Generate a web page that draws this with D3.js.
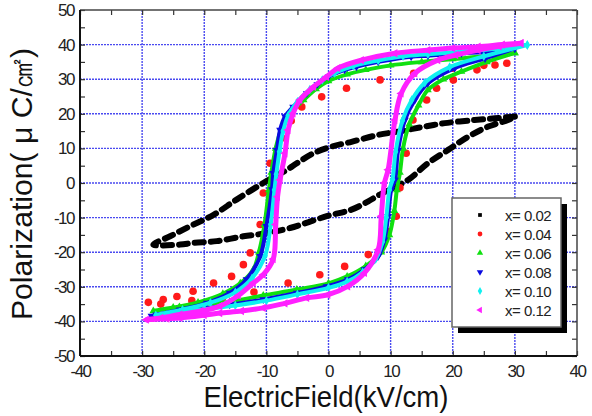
<!DOCTYPE html>
<html>
<head>
<meta charset="utf-8">
<script src="https://cdn.jsdelivr.net/npm/d3@7"></script>
<style>
  body { margin: 0; background: #fff; }
  text { font-family: "Liberation Sans", Arial, sans-serif; }
</style>
</head>
<body>
<div class="chart"></div>
<script>
// tick values
var xTicks = [-40, -30, -20, -10, 0, 10, 20, 30, 40];
var yTicks = [-50, -40, -30, -20, -10, 0, 10, 20, 30, 40, 50];
var seriesNames = ["x= 0.02", "x= 0.04", "x= 0.06", "x= 0.08", "x= 0.10", "x= 0.12"];
var seriesColors = ["#000000", "#ff1a1a", "#10e010", "#0a0ae0", "#10f0f0", "#ff20ff"];

// loops: [E, P], upper branch then lower branch
var loop002 = [[30,19.2],[26.8,18.7],[23.5,18.2],[18.7,17.3],[15.5,16.3],[11.6,15],[8,13.9],[3.7,11.9],[0.45,10.5],[-2.4,8.6],[-5.1,5.7],[-6.7,3.8],[-10.5,0],[-14.8,-4.8],[-18.5,-9.2],[-22.3,-12.5],[-25.5,-15.4],[-28.2,-17.8],
  [-23.9,-17.8],[-21.8,-17.3],[-18,-16.8],[-13.7,-15.4],[-10,-14.5],[-6.2,-13],[-0.3,-9.6],[3.7,-7.7],[6.4,-5.3],[8.2,-3.4],[12.8,0.9],[16,5.7],[19.2,9.5],[22.5,13.4],[25.7,16.3],[28.9,18.2],[30,19.2]];

var loop004 = [[28.7,34.6],[25,34],[20,33.2],[13.7,31.7],[8.3,29.8],[2.9,27.4],[-1.1,24.9],[-4.3,22],[-6,18],[-7.5,13],[-9.4,5.7],[-10.5,-2.9],[-11,-12],[-12.6,-20.2],[-13.7,-23.6],[-15.6,-27],[-18.5,-28.9],[-21.8,-31.3],[-24.4,-32.8],[-26.6,-33.7],[-29,-34.5],
  [-27,-35],[-22,-34],[-17,-33],[-12,-31.5],[-6.5,-28.9],[-1.4,-26.5],[2.6,-24.1],[6.4,-20.7],[9.5,-14],[10.9,-9.6],[11.5,-1.4],[12.5,8.6],[13.6,18.2],[15.8,24],[17.4,27.4],[20.1,29.8],[23.9,32.7],[26.8,34.1]];

var loop006 = [[30,37.6],[25,36.6],[20,35.8],[15,35],[10,34],[6,32.7],[3,31.4],[0,29.5],[-2,27.2],[-4,24],[-6,20.5],[-7.5,16],[-8.5,10],[-9.2,3],[-9.6,-2],[-10.3,-12],[-11.2,-20],[-12.1,-25],[-14.2,-29],[-17,-32],[-21,-34.5],[-25,-36],[-28.2,-37],
  [-24,-35.8],[-20,-35],[-15.9,-34.3],[-10.5,-32.5],[-5.1,-30.8],[0,-29],[3,-27],[6,-24],[8.5,-20],[9.8,-15],[10.6,-8],[11,-2],[11.5,3],[12,10],[13,17],[14.5,22.5],[16,26.9],[18.5,30],[21.4,32.2],[25.5,35],[30,37.6]];

var loop008 = [[30,38.9],[25,37.8],[21.4,37.5],[16,36.8],[13.3,36.5],[8,35],[4.5,33.6],[2.6,32.7],[0,30.7],[-1.8,28.5],[-3.5,25.9],[-5.7,22],[-7,19.2],[-7.8,15.3],[-8.3,9.5],[-8.9,2.8],[-9.1,-1.9],[-10,-12.5],[-11,-21.2],[-13.2,-27.9],[-15.9,-31.8],[-19.6,-34.7],[-23.9,-36.6],[-27.7,-38.1],
  [-28.5,-38.4],[-25,-37.5],[-21.2,-36.6],[-15.9,-35.2],[-10.5,-33.7],[-5.1,-31.8],[-0.3,-29.9],[3.1,-27.9],[5.8,-25],[8,-21.2],[9,-16.4],[9.6,-9.6],[10.1,-1.9],[10.7,0.9],[11.2,9.5],[12.3,18.2],[13.9,24],[16,28.8],[20.3,33.2],[25.2,36],[30,38.9]];

var loop010 = [[32,39.9],[27,38.8],[22,38],[16,37.2],[12,36.6],[8,35.4],[4,33.8],[1,31.8],[-1,29.8],[-3,27],[-5,23.5],[-6.5,19.5],[-7.3,15],[-7.9,9],[-8.4,2.5],[-8.7,-2],[-9.3,-12],[-10.2,-21],[-12.3,-27.5],[-15,-31.6],[-19,-34.6],[-23.5,-36.6],[-27.8,-38.2],
  [-24,-37.4],[-20,-36.5],[-15,-35.4],[-10,-34],[-5,-32.2],[0,-30.3],[3,-28.5],[5.5,-25.8],[7.6,-22],[8.7,-17],[9.3,-10],[9.8,-2],[10.3,1],[10.8,9],[11.9,18],[13.4,24],[15.5,29],[19.5,33.5],[25,36.6],[32,39.9]];

var loop012 = [[31,40.4],[28,40],[24.1,39.4],[20,39],[16,38.4],[10.7,37.5],[5.3,35.5],[1.5,33.2],[-0.3,30.7],[-2.4,27.8],[-4.6,24],[-5.7,20.1],[-6.5,15.3],[-7,8.6],[-7.8,0.9],[-8.2,-4],[-8.5,-12],[-8.9,-22],[-10.5,-26.5],[-12.1,-28.9],[-14.5,-32.5],[-17.5,-35.6],[-20.5,-37],[-23.9,-38],[-27,-39],[-29.3,-39.5],
  [-26,-39.2],[-23.9,-39],[-20,-38.2],[-17.5,-37.6],[-14,-37],[-10.5,-36.1],[-7,-34.8],[-3.5,-33.2],[-0.1,-32.3],[3.1,-29.9],[5.8,-26],[8,-19.3],[8.5,-9.6],[9,0],[9.6,3.8],[10.7,18.2],[11.7,25.9],[13.9,31.7],[17.6,35.5],[20.5,37],[24.1,38.4],[27.5,39.5],[31,40.4]];

var loops = [loop002, loop004, loop006, loop008, loop010, loop012];

var svg = d3.select(".chart").append("svg")
    .attr("width", 592)
    .attr("height", 416);

var x = d3.scaleLinear().domain([-40, 40]).range([80, 577]);
var y = d3.scaleLinear().domain([-50, 50]).range([356, 10]);

// grid
svg.append("g").selectAll("line")
    .data(xTicks.slice(1, -1))
    .enter().append("line")
    .attr("x1", function (d) { return x(d); })
    .attr("x2", function (d) { return x(d); })
    .attr("y1", y(50)).attr("y2", y(-50))
    .attr("stroke", "#4a4af0").attr("stroke-width", 1.4)
    .attr("stroke-dasharray", "2,1");
svg.append("g").selectAll("line")
    .data(yTicks.slice(1, -1))
    .enter().append("line")
    .attr("y1", function (d) { return y(d); })
    .attr("y2", function (d) { return y(d); })
    .attr("x1", x(-40)).attr("x2", x(40))
    .attr("stroke", "#4a4af0").attr("stroke-width", 1.4)
    .attr("stroke-dasharray", "2,1");

// minor ticks (inward) on all four sides
var minorX = d3.range(-40, 41, 5);
var minorY = d3.range(-50, 51, 5);
function tickStyle(g) {
  g.select(".domain").remove();
  g.selectAll("text").remove();
  g.selectAll("line").attr("stroke", "#333").attr("stroke-width", 1.2);
}
svg.append("g").attr("transform", "translate(0," + y(-50) + ")")
    .call(d3.axisBottom(x).tickValues(minorX).tickSize(-5)).call(tickStyle);
svg.append("g").attr("transform", "translate(0," + y(50) + ")")
    .call(d3.axisTop(x).tickValues(minorX).tickSize(-5)).call(tickStyle);
svg.append("g").attr("transform", "translate(" + x(-40) + ",0)")
    .call(d3.axisLeft(y).tickValues(minorY).tickSize(-5)).call(tickStyle);
svg.append("g").attr("transform", "translate(" + x(40) + ",0)")
    .call(d3.axisRight(y).tickValues(minorY).tickSize(-5)).call(tickStyle);

// frame
svg.append("line").attr("x1", x(-40)).attr("x2", x(40)).attr("y1", y(50)).attr("y2", y(50))
    .attr("stroke", "#444").attr("stroke-width", 1.5);
svg.append("line").attr("x1", x(40)).attr("x2", x(40)).attr("y1", y(50)).attr("y2", y(-50))
    .attr("stroke", "#444").attr("stroke-width", 1.5);
svg.append("line").attr("x1", x(-40)).attr("x2", x(-40)).attr("y1", y(50)).attr("y2", y(-50))
    .attr("stroke", "#111").attr("stroke-width", 2);
svg.append("line").attr("x1", x(-40)).attr("x2", x(40)).attr("y1", y(-50)).attr("y2", y(-50))
    .attr("stroke", "#111").attr("stroke-width", 2);

// tick labels
var xAxis = svg.append("g").attr("transform", "translate(0," + y(-50) + ")")
    .call(d3.axisBottom(x).tickValues(xTicks).tickSize(0).tickPadding(9).tickFormat(d3.format("d")));
xAxis.select(".domain").remove();
xAxis.selectAll("text").attr("font-size", 17).attr("fill", "#222")
    .attr("letter-spacing", "-1.5px").style("font-family", "Liberation Sans");
var yAxis = svg.append("g").attr("transform", "translate(" + x(-40) + ",0)")
    .call(d3.axisLeft(y).tickValues(yTicks).tickSize(0).tickPadding(6).tickFormat(d3.format("d")));
yAxis.select(".domain").remove();
yAxis.selectAll("text").attr("font-size", 17).attr("fill", "#222")
    .attr("letter-spacing", "-1.5px").style("font-family", "Liberation Sans");
xAxis.selectAll("text").text(function (d) { return String(d); });
yAxis.selectAll("text").text(function (d) { return String(d); });

// axis titles
svg.append("text")
    .attr("x", 326).attr("y", 407)
    .attr("text-anchor", "middle")
    .attr("font-size", 30)
    .attr("fill", "#111")
    .attr("textLength", 245)
    .attr("lengthAdjust", "spacingAndGlyphs")
    .text("ElectricField(kV/cm)");
svg.append("text")
    .attr("transform", "translate(32,184) rotate(-90)")
    .attr("text-anchor", "middle")
    .attr("font-size", 30)
    .attr("fill", "#111")
    .attr("textLength", 272)
    .attr("lengthAdjust", "spacingAndGlyphs")
    .text("Polarization( \u03bc C/\u33a0)");

// data
var line = d3.line()
    .x(function (d) { return x(d[0]); })
    .y(function (d) { return y(d[1]); })
    .curve(d3.curveCatmullRom);

var symbols = [
  { type: d3.symbolSquare, size: 22, rot: 0 },
  { type: d3.symbolCircle, size: 40, rot: 0 },
  { type: d3.symbolTriangle, size: 26, rot: 0 },
  { type: d3.symbolTriangle, size: 26, rot: 180 },
  { type: d3.symbolDiamond, size: 26, rot: 0 },
  { type: d3.symbolTriangle, size: 30, rot: -90 }
];
var legendSizes = [14, 18, 18, 18, 18, 18];

var plot = svg.append("g");

// black: thick dashed trace
plot.append("path")
    .datum(loop002)
    .attr("d", line)
    .attr("fill", "none")
    .attr("stroke", seriesColors[0])
    .attr("stroke-width", 6)
    .attr("stroke-linecap", "round")
    .attr("stroke-dasharray", "9,7");

// red: sparse dots
plot.selectAll(".red")
    .data(loop004)
    .enter().append("circle")
    .attr("class", "red")
    .attr("cx", function (d) { return x(d[0]); })
    .attr("cy", function (d) { return y(d[1]); })
    .attr("r", 3.8)
    .attr("fill", seriesColors[1]);

// dense series
[2, 3, 4, 5].forEach(function (k) {
  plot.append("path")
      .datum(loops[k])
      .attr("d", line)
      .attr("fill", "none")
      .attr("stroke", seriesColors[k])
      .attr("stroke-width", k === 5 ? 5 : 4)
      .attr("stroke-linejoin", "round");
  plot.selectAll(".s" + k)
      .data(loops[k])
      .enter().append("path")
      .attr("class", "s" + k)
      .attr("transform", function (d) {
        return "translate(" + x(d[0]) + "," + y(d[1]) + ") rotate(" + symbols[k].rot + ")";
      })
      .attr("d", d3.symbol().type(symbols[k].type).size(symbols[k].size))
      .attr("fill", seriesColors[k]);
});

// legend
var lg = svg.append("g");
lg.append("rect").attr("x", 458).attr("y", 204).attr("width", 109).attr("height", 129).attr("fill", "#000");
lg.append("rect").attr("x", 452).attr("y", 198).attr("width", 109).attr("height", 129)
    .attr("fill", "#fff").attr("stroke", "#666").attr("stroke-width", 1.5);
var rows = lg.selectAll(".row")
    .data(seriesNames)
    .enter().append("g")
    .attr("class", "row")
    .attr("transform", function (d, i) { return "translate(0," + (215 + i * 19) + ")"; });
rows.append("path")
    .attr("transform", function (d, i) { return "translate(480,0) rotate(" + symbols[i].rot + ")"; })
    .attr("d", function (d, i) { return d3.symbol().type(symbols[i].type).size(legendSizes[i])(); })
    .attr("fill", function (d, i) { return seriesColors[i]; });
rows.append("text")
    .attr("x", 505).attr("y", 5.5)
    .attr("font-size", 15)
    .attr("fill", "#222")
    .attr("letter-spacing", "-0.5px")
    .text(function (d) { return d; });
</script>
</body>
</html>
